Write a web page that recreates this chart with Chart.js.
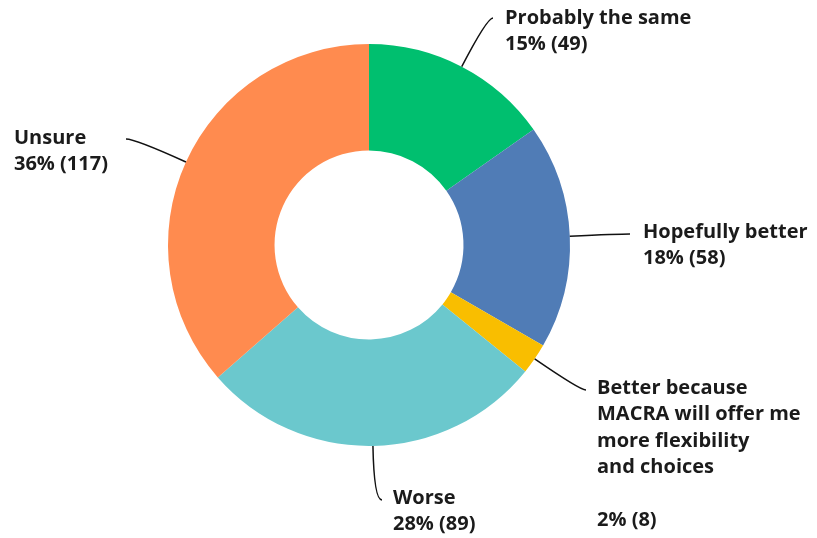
<!DOCTYPE html>
<html>
<head>
<meta charset="utf-8">
<script src="https://cdn.jsdelivr.net/npm/chart.js@4.4.0/dist/chart.umd.min.js"></script>
<style>
  html, body { margin: 0; padding: 0; background: #fff; overflow: hidden; }
  .wrap { position: relative; width: 817px; height: 538px; }
</style>
</head>
<body>
<div class="wrap"><canvas id="donut"></canvas></div>
<script>
'use strict';

// --- data (clockwise from 12 o'clock) ---
const categories = [
  ['Probably the same'],
  ['Hopefully better'],
  ['Better because', 'MACRA will offer me', 'more flexibility', 'and choices', ''],
  ['Worse'],
  ['Unsure'],
];
const counts   = [49, 58, 8, 89, 117];
const percents = [15, 18, 2, 28, 36];
const colors   = ['#00BF6F', '#507CB6', '#F9BE00', '#6BC8CD', '#FF8B4F'];

// label placement: leader end point, text start, first-line centre
const labelPos = [
  { ex: 493, ey: 18,  tx: 505, ty: 18 },
  { ex: 630, ey: 234, tx: 643, ty: 232 },
  { ex: 586, ey: 390, tx: 597, ty: 388 },
  { ex: 382, ey: 500, tx: 393, ty: 498 },
  { ex: 126, ey: 139, tx: 14,  ty: 138 },
];
const LINE_H = 26.5;

const leaderLabels = {
  id: 'leaderLabels',
  afterDraw(chart) {
    const ctx = chart.ctx;
    const arcs = chart.getDatasetMeta(0).data;
    ctx.save();
    arcs.forEach((arc, i) => {
      const p = arc.getProps(['x', 'y', 'startAngle', 'endAngle', 'outerRadius'], true);
      const mid = (p.startAngle + p.endAngle) / 2;
      const dx = Math.cos(mid), dy = Math.sin(mid);
      const sx = p.x + dx * p.outerRadius;
      const sy = p.y + dy * p.outerRadius;
      const L = labelPos[i];
      // control point: where the radial direction meets the end line's height
      let t = Math.abs(dy) > 1e-3 ? (L.ey - sy) / dy : 0;
      const maxT = Math.hypot(L.ex - sx, L.ey - sy);
      t = Math.max(0, Math.min(t, maxT));
      const cx = sx + dx * t, cy = sy + dy * t;

      ctx.beginPath();
      ctx.moveTo(sx, sy);
      ctx.quadraticCurveTo(cx, cy, L.ex, L.ey);
      ctx.strokeStyle = '#111';
      ctx.lineWidth = 1.5;
      ctx.stroke();

      ctx.fillStyle = '#1b1b1b';
      ctx.font = 'bold 20px "Open Sans", sans-serif';
      ctx.textBaseline = 'middle';
      ctx.textAlign = 'left';
      const lines = categories[i].concat([percents[i] + '% (' + counts[i] + ')']);
      lines.forEach((ln, k) => ctx.fillText(ln, L.tx, L.ty + k * LINE_H));
    });
    ctx.restore();
  }
};

new Chart(document.getElementById('donut'), {
  type: 'doughnut',
  data: {
    labels: categories.map(c => c.filter(Boolean).join(' ')),
    datasets: [{
      data: counts,
      backgroundColor: colors,
      borderWidth: 0,
    }],
  },
  options: {
    responsive: true,
    maintainAspectRatio: false,
    animation: false,
    cutout: '47%',
    layout: { padding: { left: 168, right: 247, top: 44, bottom: 92 } },
    plugins: { legend: { display: false }, tooltip: { enabled: false } },
  },
  plugins: [leaderLabels],
});
</script>
</body>
</html>
